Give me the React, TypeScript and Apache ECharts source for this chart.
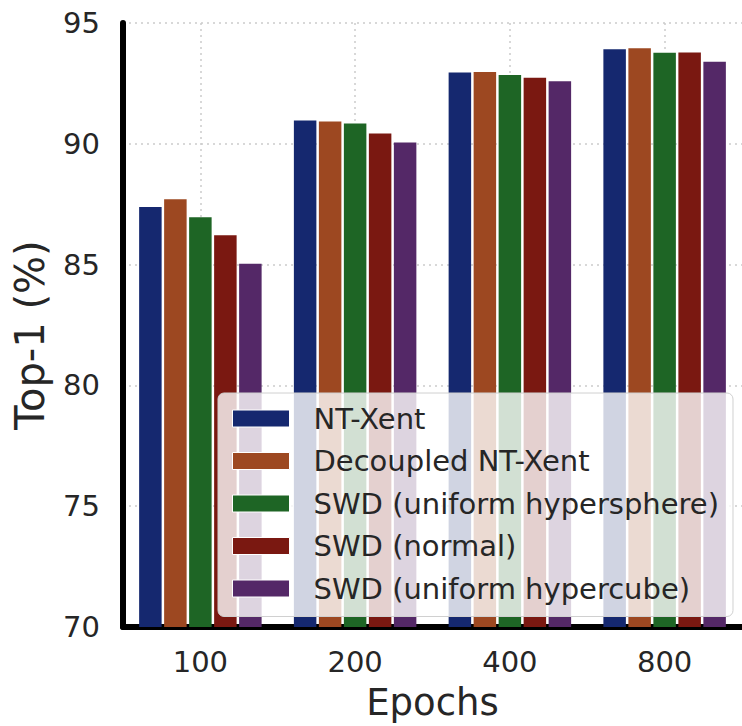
import React, { useEffect, useRef } from "react";
import * as echarts from "echarts";

const categories = ["100", "200", "400", "800"];
const seriesNames = [
  "NT-Xent",
  "Decoupled NT-Xent",
  "SWD (uniform hypersphere)",
  "SWD (normal)",
  "SWD (uniform hypercube)",
];
const ntXent = [87.38, 90.96, 92.95, 93.91];
const decoupledNtXent = [87.71, 90.92, 92.97, 93.95];
const swdSphere = [86.96, 90.84, 92.85, 93.77];
const swdNormal = [86.21, 90.43, 92.73, 93.78];
const swdCube = [85.04, 90.05, 92.59, 93.4];
const yTicks = [70, 75, 80, 85, 90, 95];

const colors = ["#15286f", "#9d4821", "#1e6525", "#7a1811", "#542867"];
const FONT = "DejaVu Sans";
const TEXT = "#262626";

export default function App() {
  const ref = useRef<HTMLDivElement>(null);
  useEffect(() => {
    document.body.style.margin = "0";
    const chart = echarts.init(ref.current!, null, { renderer: "svg" });
    const values = [ntXent, decoupledNtXent, swdSphere, swdNormal, swdCube];
    chart.setOption({
      animation: false,
      textStyle: { fontFamily: FONT },
      grid: { left: 123, top: 23, width: 624, height: 605 },
      legend: {
        orient: "vertical",
        left: 218,
        top: 393,
        padding: [9.5, 14, 12, 14],
        itemWidth: 57,
        itemHeight: 17,
        itemGap: 10.5,
        icon: "rect",
        backgroundColor: "rgba(255,255,255,0.8)",
        borderColor: "#d0d0d0",
        borderWidth: 1,
        borderRadius: 6,
        itemStyle: { borderWidth: 1, borderColor: "#ffffff" },
        textStyle: {
          fontFamily: FONT,
          fontSize: 29,
          color: TEXT,
          lineHeight: 32,
          padding: [0, 0, 0, 19],
        },
        data: seriesNames,
      },
      xAxis: {
        type: "category",
        data: categories,
        name: "Epochs",
        nameLocation: "middle",
        nameGap: 57,
        nameTextStyle: { fontFamily: FONT, fontSize: 37, color: TEXT },
        axisLine: { show: true, lineStyle: { color: "#000", width: 6 } },
        axisTick: { show: false, alignWithLabel: true },
        axisLabel: { fontFamily: FONT, fontSize: 29, color: TEXT, margin: 20 },
        splitLine: {
          show: true,
          alignWithLabel: true,
          lineStyle: { color: "#cccccc", type: [2, 4], width: 1.5 },
        },
      },
      yAxis: {
        type: "value",
        min: yTicks[0],
        max: yTicks[yTicks.length - 1],
        interval: 5,
        name: "Top-1 (%)",
        nameLocation: "middle",
        nameGap: 73,
        nameTextStyle: {
          fontFamily: FONT,
          fontSize: 40,
          color: TEXT,
          padding: [0, 20, 0, 0],
        },
        axisLine: { show: true, lineStyle: { color: "#000", width: 6 } },
        axisTick: { show: false },
        axisLabel: { fontFamily: FONT, fontSize: 29, color: TEXT, margin: 23 },
        splitLine: {
          show: true,
          lineStyle: { color: "#cccccc", type: [2, 4], width: 1.5 },
        },
      },
      series: seriesNames.map((name, i) => ({
        name,
        type: "bar",
        data: values[i],
        barWidth: 22.5,
        barGap: "11.1%",
        itemStyle: { color: colors[i] },
      })),
    });
    return () => chart.dispose();
  }, []);
  return <div ref={ref} style={{ width: 742, height: 726 }} />;
}
